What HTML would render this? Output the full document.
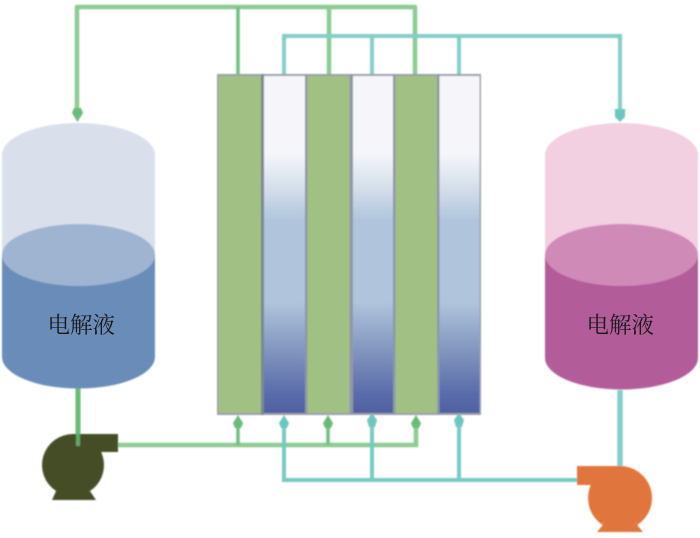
<!DOCTYPE html>
<html>
<head>
<meta charset="utf-8">
<style>
html,body{margin:0;padding:0;background:#fff;width:700px;height:538px;overflow:hidden}
svg{display:block}
text{font-family:"Liberation Serif","Noto Serif CJK SC",serif;font-size:22.500px;fill:#1a1a1a}
</style>
</head>
<body>
<svg width="700" height="538" viewBox="0 0 700 538" xmlns="http://www.w3.org/2000/svg">
<defs>
<linearGradient id="w" x1="0" y1="0" x2="0" y2="1">
<stop offset="0" stop-color="#f6f6fa"/>
<stop offset="0.23" stop-color="#f5f6fa"/>
<stop offset="0.33" stop-color="#d5dfeb"/>
<stop offset="0.43" stop-color="#b0c4dc"/>
<stop offset="0.67" stop-color="#b0c4dc"/>
<stop offset="0.82" stop-color="#8093bd"/>
<stop offset="0.94" stop-color="#5a6cab"/>
<stop offset="1" stop-color="#4f60a2"/>
</linearGradient>
<filter id="b" x="-5%" y="-5%" width="110%" height="110%"><feGaussianBlur stdDeviation="0.7"/></filter>
</defs>
<g filter="url(#b)">
<!-- green piping -->
<g fill="none" stroke="#8ccb92" stroke-width="4.500">
<path d="M77 112V7H415V74" stroke-linejoin="round"/>
<path d="M118 445H416V420"/>
<path d="M329 7V74"/>
</g>
<g fill="none" stroke="#6fbf80" stroke-width="3.500">
<path d="M238 7V74"/>
<path d="M238 445V420"/><path d="M328 445V420"/>
</g>
<path d="M78 388V446" stroke="#66bb78" stroke-width="5" fill="none"/>
<!-- teal piping -->
<g fill="none" stroke="#86cdc8" stroke-width="4">
<path d="M284 74V36H620V112"/>
<path d="M372 36V74"/><path d="M459 36V74"/>
<path d="M620 390V468" stroke-width="5.500"/>
</g>
<g fill="none" stroke="#78cac3" stroke-width="4">
<path d="M284 420V480H580"/>
<path d="M372 420V480"/><path d="M459 420V480"/>
</g>
<!-- stack -->
<rect x="217" y="74" width="264" height="341" fill="#9a9fab"/>
<rect x="218.500" y="76" width="42.500" height="337" fill="#a0c183"/>
<rect x="264" y="76" width="41" height="337" fill="url(#w)"/>
<rect x="307.500" y="76" width="42" height="337" fill="#a0c183"/>
<rect x="353" y="76" width="40" height="337" fill="url(#w)"/>
<rect x="395" y="76" width="42" height="337" fill="#a0c183"/>
<rect x="439.500" y="76" width="40" height="337" fill="url(#w)"/>
<rect x="261" y="74" width="3" height="341" fill="#7c8791"/>
<rect x="305" y="74" width="2.500" height="341" fill="#8f97a5"/>
<rect x="350" y="74" width="2.500" height="341" fill="#8f97a5"/>
<rect x="393" y="74" width="2.500" height="341" fill="#8f97a5"/>
<rect x="437" y="74" width="2.500" height="341" fill="#8f97a5"/>
<!-- arrowheads -->
<g fill="#67bd79">
<path d="M74 108H81L83 113L77.500 122L72 113Z"/>
<path d="M233 423L238 415L243 423L241 428H235Z"/>
<path d="M323 423L328 415L333 423L331 428H325Z"/>
<path d="M411 423L416 415L421 423L419 428H413Z"/>
</g>
<g fill="#6cc6c0">
<path d="M279 423L284 415L289 423L287 428H281Z"/>
<path d="M367 420L372 413L377 420L375 427H369Z"/>
<path d="M454 420L459 413L464 420L462 427H456Z"/>
<path d="M615 109H625V117L620 122L615 117Z"/>
</g>
<!-- left tank -->
<path d="M2 155A76.500 32 0 0 1 155 155V256H2Z" fill="#d9e0ec"/>
<path d="M2 255V357A76.500 31.500 0 0 0 155 357V255Z" fill="#6a8cb9"/>
<ellipse cx="78.500" cy="255" rx="76.500" ry="31" fill="#9fb4d1"/>
<!-- right tank -->
<path d="M545 155A76.500 32 0 0 1 698 155V256H545Z" fill="#f3cfe2"/>
<path d="M545 255V358A76.500 31.500 0 0 0 698 358V255Z" fill="#b25c9a"/>
<ellipse cx="621.500" cy="255" rx="76.500" ry="31" fill="#cf8ab7"/>
<!-- left pump -->
<path d="M73 434H118V452H101.100A31 31 0 0 1 89.900 491L96 500H52L56.100 491A31 31 0 0 1 73 434Z" fill="#454d26"/>
<path d="M78 434V446" stroke="#5fa868" stroke-width="4"/>
<!-- right pump -->
<path d="M577 466H620A32 32 0 0 1 637.200 525L643 532H597L602.800 525A32 32 0 0 1 590.800 485H577Z" fill="#e0763e"/>
</g>
<text x="47.500" y="333">电解液</text>
<text x="586.500" y="333">电解液</text>
</svg>
</body>
</html>
